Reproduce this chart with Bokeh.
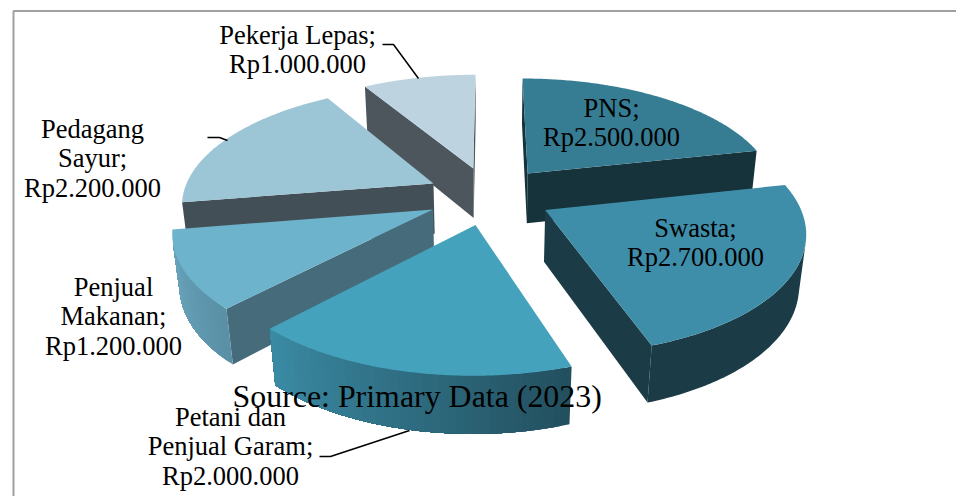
import numpy as np
from bokeh.core.properties import value
from bokeh.embed import file_html
from bokeh.models import ColumnDataSource, Range1d
from bokeh.plotting import figure
from bokeh.resources import INLINE

# ---- data, clockwise from the back of the pie ----
categories = ["PNS", "Swasta", "Petani dan Penjual Garam", "Penjual Makanan", "Pedagang Sayur", "Pekerja Lepas"]
values = [2500000, 2700000, 2000000, 1200000, 2200000, 1000000]
label_lines = [["PNS;"], ["Swasta;"], ["Petani dan", "Penjual Garam;"], ["Penjual", "Makanan;"], ["Pedagang", "Sayur;"], ["Pekerja Lepas;"]]
source_note = "Source: Primary Data (2023)"

# ---- style ----
top_colors = ["#367d93", "#3f8ea9", "#45a2bd", "#6cb3cb", "#9cc5d6", "#bdd4e0"]
wall_colors = ["#16323b", "#1b3c47", "#2b5d6e", "#466c7c", "#434f56", "#4d565c"]
rim_from = ["#16323b", "#1b3c47", "#23505f", "#5a90a6", "#434f56", "#4d565c"]
rim_to = ["#16323b", "#1b3c47", "#3b8ba5", "#6aa5bc", "#434f56", "#4d565c"]
draw_order = [5, 0, 4, 1, 3, 2]
label_anchor = [(611, 117), (695, 237), (230, 426), (113, 296), (92, 138), (297, 44)]
leaders = [([382, 393, 418], [44, 44, 78]), ([207, 219, 227], [137, 137, 140]), ([319, 330, 409], [456, 456, 430])]
FONT = "Liberation Serif"
LABEL_SHIFT, NOTE_SHIFT = -10, -12

# ---- projection of the pie's plane ----
CX, CY, RX, RY, PERSP, EXPLODE, DEPTH, DEPTH_PERSP = 489, 195, 251, 116.4, 0.158, 0.25, 52, 0.022


def project(x, y, z=0.0):
    w = 1 + PERSP * y + DEPTH_PERSP * z
    return CX + RX * x / w, CY + (-RY * y + DEPTH * z) / w


def hex2rgb(c):
    return np.array([int(c[i:i + 2], 16) for i in (1, 3, 5)], dtype=float)


def mix(a, b, t):
    r = hex2rgb(a) * (1 - t) + hex2rgb(b) * t
    return "#%02x%02x%02x" % tuple(int(round(v)) for v in r)


fractions = np.array(values, dtype=float) / sum(values)
ends = np.cumsum(fractions) * 2 * np.pi
starts = ends - fractions * 2 * np.pi

xs, ys, cs = [], [], []


def add(poly, color):
    xs.append([float(q[0]) for q in poly])
    ys.append([float(q[1]) for q in poly])
    cs.append(color)


def faces_viewer(a, b):
    q = [project(*a), project(*b), project(*b, 1.0), project(*a, 1.0)]
    return sum(q[i][0] * q[(i + 1) % 4][1] - q[(i + 1) % 4][0] * q[i][1] for i in range(4)) < 0


def wall(a, b, color):
    if faces_viewer(a, b):
        add([project(*a), project(*b), project(*b, 1.0), project(*a, 1.0)], color)


for i in draw_order:
    mid = (starts[i] + ends[i]) / 2
    ax, ay = EXPLODE * np.sin(mid), EXPLODE * np.cos(mid)
    th = np.linspace(starts[i], ends[i], 121)
    rim = [(ax + np.sin(t), ay + np.cos(t)) for t in th]
    wall((ax, ay), rim[0], wall_colors[i])
    wall(rim[-1], (ax, ay), wall_colors[i])
    # visible part of the curved wall; each band runs on to the end so no seams show
    vis = [k for k in range(len(rim) - 1) if faces_viewer(rim[k], rim[k + 1])]
    if vis:
        last = vis[-1] + 1
        flat = rim_from[i] == rim_to[i]
        for k in (vis[:1] if flat else vis[::3]):
            band = rim[k:last + 1]
            poly = [project(*r) for r in band] + [project(*r, 1.0) for r in reversed(band)]
            add(poly, mix(rim_from[i], rim_to[i], (k - vis[0]) / max(1, len(vis) - 1)))
    add([project(ax, ay)] + [project(*r) for r in rim], top_colors[i])

p = figure(width=956, height=496, x_range=Range1d(0, 956), y_range=Range1d(496, 0),
           output_backend="svg", toolbar_location=None, min_border=0)
p.axis.visible = False
p.grid.visible = False
p.outline_line_color = None
p.background_fill_color = "white"

# chart frame
p.line([13, 13, 956], [496, 10.5, 10.5], line_color="#a0a0a0", line_width=2)

p.patches("xs", "ys", source=ColumnDataSource(dict(xs=xs, ys=ys, c=cs)),
          fill_color="c", line_color=None)

for lx, ly in leaders:
    p.line(lx, ly, line_color="black", line_width=1.5)

tx, ty, tt = [], [], []
for i, lines in enumerate(label_lines):
    all_lines = lines + ["Rp" + f"{values[i]:,}".replace(",", ".")]
    for j, s in enumerate(all_lines):
        tx.append(label_anchor[i][0])
        ty.append(label_anchor[i][1] + LABEL_SHIFT + j * 29.5)
        tt.append(s)
p.text("x", "y", text="t", source=ColumnDataSource(dict(x=tx, y=ty, t=tt)),
       text_font=value(FONT), text_font_size="26.5px", text_align="center",
       text_baseline="alphabetic", text_color="black")
p.text([232], [408 + NOTE_SHIFT], text=[source_note], text_font=value(FONT), text_font_size="31.9px",
       text_align="left", text_baseline="alphabetic", text_color="black")

open("out.html", "w").write(file_html(p, INLINE))
